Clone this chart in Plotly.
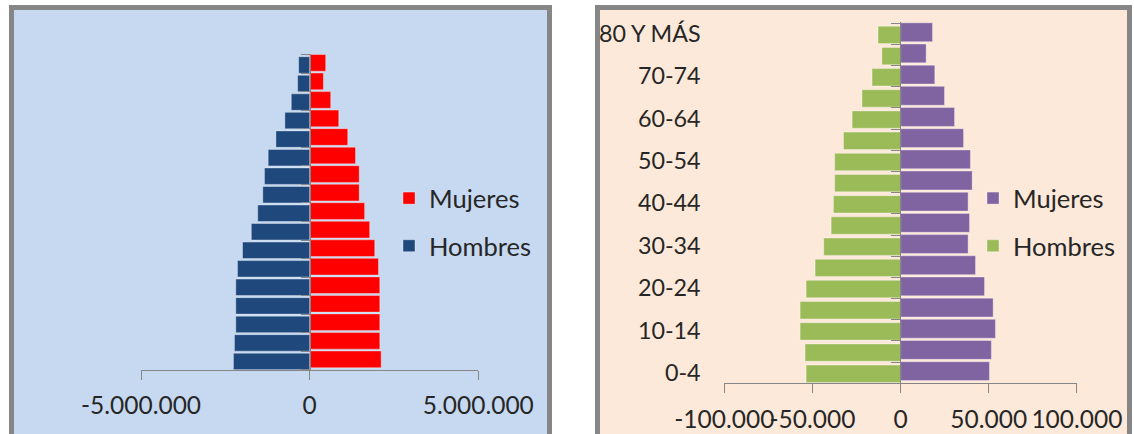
import plotly.graph_objects as go

W, H = 1134, 434

# ---------------- data ----------------
age_groups = ["0-4", "5-9", "10-14", "15-19", "20-24", "25-29", "30-34", "35-39",
              "40-44", "45-49", "50-54", "55-59", "60-64", "65-69", "70-74",
              "75-79", "80 Y MÁS"]
right_tick_labels = ["0-4", "", "10-14", "", "20-24", "", "30-34", "",
                     "40-44", "", "50-54", "", "60-64", "", "70-74", "", "80 Y MÁS"]

# left pyramid (persons)
left_hombres = [2260000, 2230000, 2190000, 2190000, 2190000, 2140000, 1990000, 1730000,
                1540000, 1390000, 1340000, 1230000, 1000000, 735000, 545000, 357000, 327000]
left_mujeres = [2120000, 2080000, 2080000, 2080000, 2080000, 2040000, 1930000, 1780000,
                1630000, 1470000, 1470000, 1360000, 1130000, 863000, 625000, 408000, 476000]
left_xticks = [-5000000, 0, 5000000]
left_xtick_text = ["-5.000.000", "0", "5.000.000"]

# right pyramid (persons)
right_hombres = [53600, 54200, 57000, 57000, 53600, 48500, 43600, 39400,
                 38100, 37400, 37400, 32400, 27500, 21900, 16200, 10600, 12800]
right_mujeres = [50400, 51500, 53800, 52500, 47600, 42500, 38300, 39100,
                 38300, 40600, 39600, 35700, 30600, 24900, 19400, 14500, 18100]
right_xticks = [-100000, -50000, 0, 50000, 100000]
right_xtick_text = ["-100.000", "-50.000", "0", "50.000", "100.000"]

# ---------------- style ----------------
GRAY = "#868686"
TXT = "#262626"
FONT = "Lato"
FS_TICK = 24.5
FS_CAT = 23.3
FS_LEG = 25.5


def px_x(p):
    return p / W


def px_y(p):
    return 1 - p / H


fig = go.Figure()

# left chart traces
fig.add_trace(go.Bar(
    y=age_groups, x=left_mujeres, orientation="h", name="Mujeres",
    marker=dict(color="#FF0000", line=dict(color="rgba(255,255,255,0.35)", width=1)),
    width=0.9, offset=-0.39, xaxis="x", yaxis="y", legend="legend",
    legendgroup="lm"))
fig.add_trace(go.Bar(
    y=age_groups, x=[-v for v in left_hombres], orientation="h", name="Hombres",
    marker=dict(color="#1F497D", line=dict(color="rgba(255,255,255,0.35)", width=1)),
    width=0.89, offset=-0.5, xaxis="x", yaxis="y", legend="legend",
    legendgroup="lh"))

# right chart traces
fig.add_trace(go.Bar(
    y=age_groups, x=right_mujeres, orientation="h", name="Mujeres",
    marker=dict(color="#8064A2", line=dict(color="rgba(255,255,255,0.35)", width=1)),
    width=0.89, offset=-0.37, xaxis="x2", yaxis="y2", legend="legend2",
    legendgroup="rm"))
fig.add_trace(go.Bar(
    y=age_groups, x=[-v for v in right_hombres], orientation="h", name="Hombres",
    marker=dict(color="#9BBB59", line=dict(color="rgba(255,255,255,0.35)", width=1)),
    width=0.82, offset=-0.46, xaxis="x2", yaxis="y2", legend="legend2",
    legendgroup="rh"))

# geometry of the plot areas (pixels)
L_x0, L_x1 = 141.0, 478.3
L_ybot, L_ytop = 369.7, 53.8
L_zero = 310.3
R_x0, R_x1 = 724.3, 1076.9
R_ybot, R_ytop = 383.3, 22.2
R_zero = 900.3

xaxis_common = dict(showgrid=False, zeroline=False, showline=True, linecolor=GRAY,
                    linewidth=1, ticks="outside", ticklen=9, tickcolor=GRAY, tickwidth=1,
                    tickmode="array", tickangle=0, automargin=False,
                    tickfont=dict(family=FONT, size=FS_TICK, color=TXT),
                    fixedrange=True)
yaxis_common = dict(type="category", categoryorder="array", categoryarray=age_groups,
                    range=[-0.5, 16.55], showgrid=False, zeroline=False, showline=True,
                    linecolor=GRAY, linewidth=1, ticks="outside", ticklen=9,
                    tickcolor=GRAY, tickwidth=1, tickson="boundaries", anchor="free",
                    automargin=False, tickangle=0,
                    tickfont=dict(family=FONT, size=FS_CAT, color=TXT), fixedrange=True)

fig.update_layout(
    width=W, height=H,
    autosize=False,
    margin=dict(l=0, r=0, t=0, b=0, pad=0, autoexpand=False),
    paper_bgcolor="white",
    plot_bgcolor="rgba(0,0,0,0)",
    font=dict(family=FONT, size=FS_TICK, color=TXT),
    barmode="overlay",
    xaxis=dict(domain=[px_x(L_x0), px_x(L_x1)], range=[-5000000, 5000000],
               tickvals=left_xticks, ticktext=left_xtick_text, anchor="y",
               ticklabelstandoff=5, **xaxis_common),
    yaxis=dict(domain=[px_y(L_ybot), px_y(L_ytop)], position=px_x(L_zero),
               showticklabels=False, **yaxis_common),
    xaxis2=dict(domain=[px_x(R_x0), px_x(R_x1)], range=[-100000, 100000],
                tickvals=right_xticks, ticktext=right_xtick_text, anchor="y2",
                ticklabelstandoff=5, **xaxis_common),
    yaxis2=dict(domain=[px_y(R_ybot), px_y(R_ytop)], position=px_x(R_zero),
                showticklabels=True, tickmode="array", tickvals=age_groups,
                ticktext=right_tick_labels, ticklabelstandoff=195, **yaxis_common),
    legend=dict(x=px_x(389), y=px_y(175), xanchor="left", yanchor="top",
                bgcolor="rgba(0,0,0,0)", tracegroupgap=11.5,
                font=dict(family=FONT, size=FS_LEG, color=TXT)),
    legend2=dict(x=px_x(973), y=px_y(175), xanchor="left", yanchor="top",
                 bgcolor="rgba(0,0,0,0)", tracegroupgap=11.5,
                 font=dict(family=FONT, size=FS_LEG, color=TXT)),
    showlegend=True,
    shapes=[
        dict(type="rect", xref="paper", yref="paper", layer="below",
             x0=px_x(9), x1=px_x(552), y0=0, y1=px_y(5),
             fillcolor=GRAY, line=dict(width=0)),
        dict(type="rect", xref="paper", yref="paper", layer="below",
             x0=px_x(14), x1=px_x(547), y0=0, y1=px_y(10),
             fillcolor="#C6D9F1", line=dict(width=0)),
        dict(type="rect", xref="paper", yref="paper", layer="below",
             x0=px_x(595), x1=px_x(1132), y0=0, y1=px_y(5),
             fillcolor=GRAY, line=dict(width=0)),
        dict(type="rect", xref="paper", yref="paper", layer="below",
             x0=px_x(600), x1=px_x(1127), y0=0, y1=px_y(10),
             fillcolor="#FDE9D9", line=dict(width=0)),
    ],
)

fig.write_html(
    "out.html",
    config={"displayModeBar": False, "staticPlot": False},
    post_script="document.body.style.margin='0';document.body.style.overflow='hidden';",
)
